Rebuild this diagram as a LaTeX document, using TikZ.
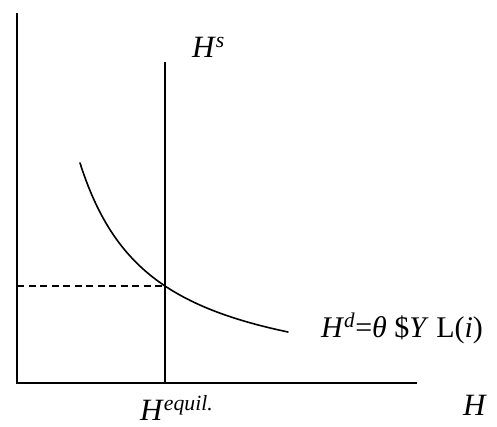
\documentclass[tikz,border=0pt]{standalone}
\usepackage{fontspec}
\setmainfont{Liberation Serif}
\begin{document}
\begin{tikzpicture}[x=1pt,y=-1pt,
  axis/.style={line width=1.9pt},
  curve/.style={line width=1.6pt},
  lbl/.style={font=\fontsize{31}{34}\selectfont, inner sep=0pt, anchor=base west}]
\useasboundingbox (0,0) rectangle (497,426);
\coordinate (o) at (17,383);
\coordinate (ytop) at (17,13);
\coordinate (xend) at (417,383);
\coordinate (hs) at (165,62);
\coordinate (hb) at (165,383);
\coordinate (eq) at (165,286);
\coordinate (dl) at (17,286);
\draw[axis] (ytop) -- (o) -- (xend);
\draw[curve] (hs) -- (hb);
\draw[line width=1.5pt, dash pattern=on 7pt off 4.5pt] (dl) -- (eq);
\draw[curve, line cap=round] plot[domain=80:288, samples=80, smooth] (\x, {390.9 - 16.524/(\x-7.51)*1000});
\node[lbl] (lhs) at (192,57) {\textit{H}\textsuperscript{\textit{s}}};
\node[lbl, font=\fontsize{30}{34}\selectfont] (lhd) at (321,337) {\textit{H}\textsuperscript{\textit{d}}=\textit{θ} \$\textit{Y} L(\textit{i})};
\node[lbl] (lheq) at (140,420) {\textit{H}\textsuperscript{\textit{equil.}}};
\node[lbl] (lh) at (463,415) {\textit{H}};
\end{tikzpicture}
\end{document}
